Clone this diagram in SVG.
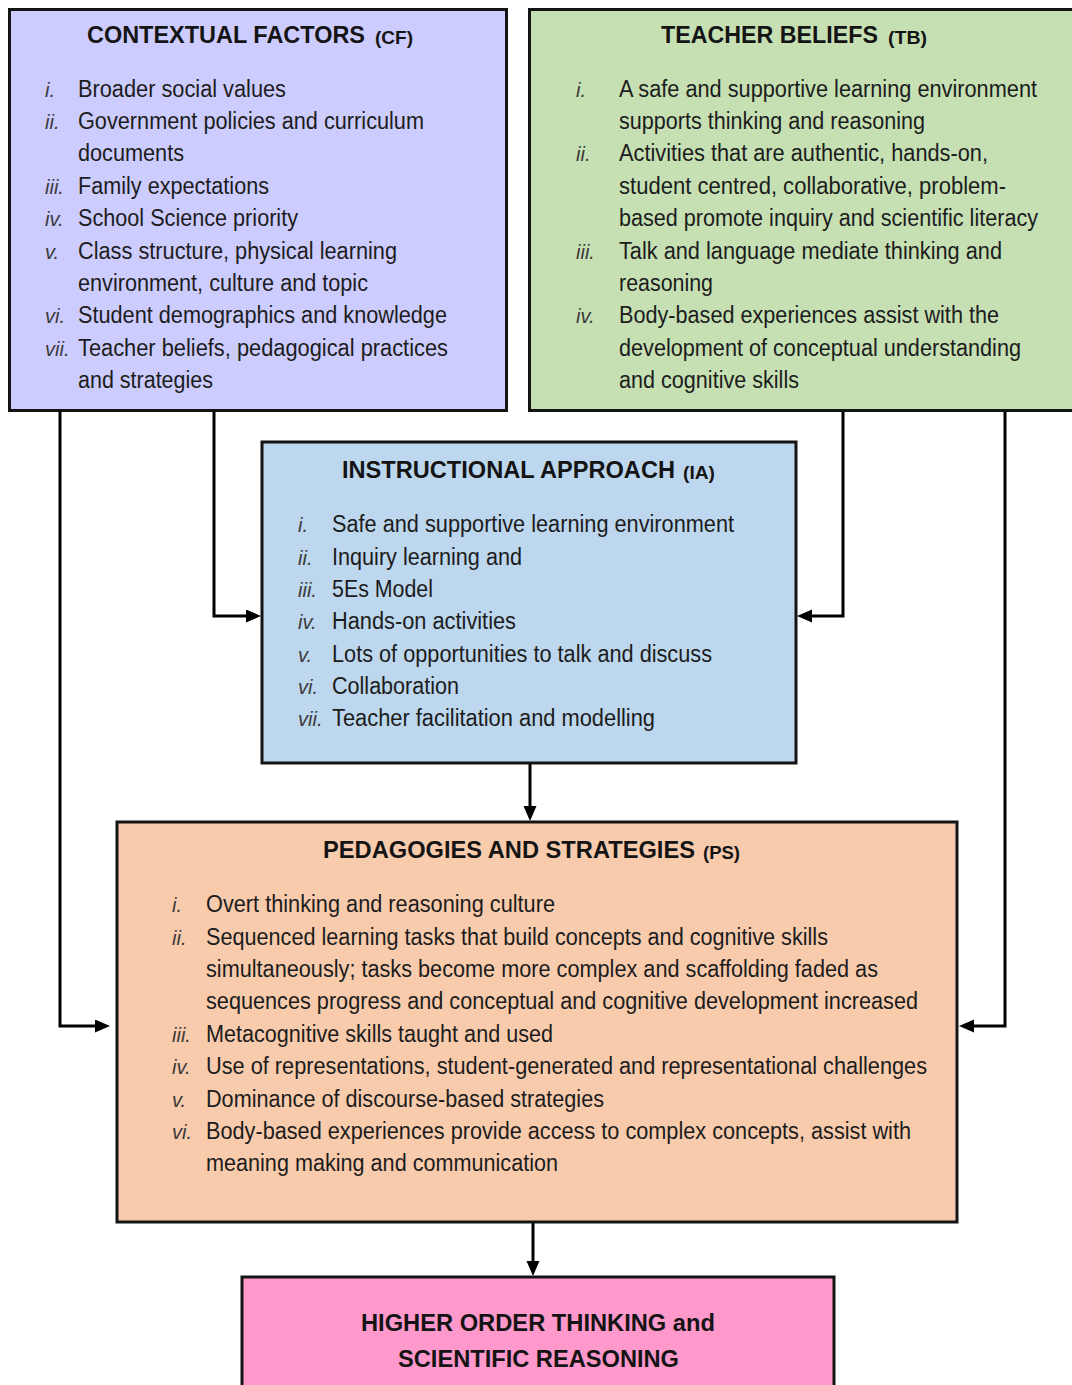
<svg xmlns="http://www.w3.org/2000/svg" width="1072" height="1385" viewBox="0 0 1072 1385">
<style>
.box{stroke:#141414;stroke-width:3}
.t{font-family:"Liberation Sans",Arial,sans-serif;font-weight:bold;font-size:23.5px;fill:#141414}
.p{font-family:"Liberation Sans",Arial,sans-serif;font-weight:bold;font-size:18px;fill:#141414}
.b{font-family:"Liberation Sans",Arial,sans-serif;font-size:23px;fill:#1c1c1c}
.n{font-family:"Liberation Sans",Arial,sans-serif;font-style:italic;font-size:20px;fill:#3a3a3a}
.c{fill:none;stroke:#000;stroke-width:3;marker-end:url(#ah)}
</style>
<defs>
<marker id="ah" markerUnits="userSpaceOnUse" markerWidth="16" markerHeight="14" refX="3" refY="6.5" orient="auto">
<path d="M0,0 L15,6.5 L0,13 z" fill="#000"/>
</marker>
</defs>
<rect width="1072" height="1385" fill="#fff"/>

<g id="connectors">
<path class="c" d="M60,411 V1026 H98"/>
<path class="c" d="M214,411 V616 H249"/>
<path class="c" d="M843,411 V616 H809"/>
<path class="c" d="M1005,411 V1026 H971"/>
<path class="c" d="M530,764 V809"/>
<path class="c" d="M533,1222 V1264"/>
</g>

<g id="cf">
<rect class="box" x="9.5" y="9.5" width="497" height="401" fill="#CCCCFF"/>
<text class="t" x="87" y="43" textLength="278" lengthAdjust="spacingAndGlyphs">CONTEXTUAL FACTORS</text>
<text class="p" x="375" y="44" textLength="38" lengthAdjust="spacingAndGlyphs">(CF)</text>
<text class="n" x="45" y="96.5">i.</text>
<text class="b" x="78" y="96.5" textLength="208" lengthAdjust="spacingAndGlyphs">Broader social values</text>
<text class="n" x="45" y="128.9">ii.</text>
<text class="b" x="78" y="128.9" textLength="346" lengthAdjust="spacingAndGlyphs">Government policies and curriculum</text>
<text class="b" x="78" y="161.3" textLength="106" lengthAdjust="spacingAndGlyphs">documents</text>
<text class="n" x="45" y="193.7">iii.</text>
<text class="b" x="78" y="193.7" textLength="191" lengthAdjust="spacingAndGlyphs">Family expectations</text>
<text class="n" x="45" y="226.1">iv.</text>
<text class="b" x="78" y="226.1" textLength="220" lengthAdjust="spacingAndGlyphs">School Science priority</text>
<text class="n" x="45" y="258.5">v.</text>
<text class="b" x="78" y="258.5" textLength="319" lengthAdjust="spacingAndGlyphs">Class structure, physical learning</text>
<text class="b" x="78" y="290.9" textLength="290" lengthAdjust="spacingAndGlyphs">environment, culture and topic</text>
<text class="n" x="45" y="323.3">vi.</text>
<text class="b" x="78" y="323.3" textLength="369" lengthAdjust="spacingAndGlyphs">Student demographics and knowledge</text>
<text class="n" x="45" y="355.7">vii.</text>
<text class="b" x="78" y="355.7" textLength="370" lengthAdjust="spacingAndGlyphs">Teacher beliefs, pedagogical practices</text>
<text class="b" x="78" y="388.1" textLength="135" lengthAdjust="spacingAndGlyphs">and strategies</text>
</g>

<g id="tb">
<rect class="box" x="529.5" y="9.5" width="560" height="401" fill="#C6E0B4"/>
<text class="t" x="661" y="43" textLength="217" lengthAdjust="spacingAndGlyphs">TEACHER BELIEFS</text>
<text class="p" x="888" y="44" textLength="39" lengthAdjust="spacingAndGlyphs">(TB)</text>
<text class="n" x="576" y="96.5">i.</text>
<text class="b" x="619" y="96.5" textLength="418" lengthAdjust="spacingAndGlyphs">A safe and supportive learning environment</text>
<text class="b" x="619" y="128.9" textLength="306" lengthAdjust="spacingAndGlyphs">supports thinking and reasoning</text>
<text class="n" x="576" y="161.3">ii.</text>
<text class="b" x="619" y="161.3" textLength="369" lengthAdjust="spacingAndGlyphs">Activities that are authentic, hands-on,</text>
<text class="b" x="619" y="193.7" textLength="387" lengthAdjust="spacingAndGlyphs">student centred, collaborative, problem-</text>
<text class="b" x="619" y="226.1" textLength="419" lengthAdjust="spacingAndGlyphs">based promote inquiry and scientific literacy</text>
<text class="n" x="576" y="258.5">iii.</text>
<text class="b" x="619" y="258.5" textLength="383" lengthAdjust="spacingAndGlyphs">Talk and language mediate thinking and</text>
<text class="b" x="619" y="290.9" textLength="94" lengthAdjust="spacingAndGlyphs">reasoning</text>
<text class="n" x="576" y="323.3">iv.</text>
<text class="b" x="619" y="323.3" textLength="380" lengthAdjust="spacingAndGlyphs">Body-based experiences assist with the</text>
<text class="b" x="619" y="355.7" textLength="402" lengthAdjust="spacingAndGlyphs">development of conceptual understanding</text>
<text class="b" x="619" y="388.1" textLength="180" lengthAdjust="spacingAndGlyphs">and cognitive skills</text>
</g>

<g id="ia">
<rect class="box" x="262" y="442" width="534" height="321" fill="#BDD7EE"/>
<text class="t" x="342" y="478" textLength="333" lengthAdjust="spacingAndGlyphs">INSTRUCTIONAL APPROACH</text>
<text class="p" x="683" y="479" textLength="32" lengthAdjust="spacingAndGlyphs">(IA)</text>
<text class="n" x="298" y="532">i.</text>
<text class="b" x="332" y="532" textLength="402" lengthAdjust="spacingAndGlyphs">Safe and supportive learning environment</text>
<text class="n" x="298" y="564.5">ii.</text>
<text class="b" x="332" y="564.5" textLength="190" lengthAdjust="spacingAndGlyphs">Inquiry learning and</text>
<text class="n" x="298" y="597">iii.</text>
<text class="b" x="332" y="597" textLength="101" lengthAdjust="spacingAndGlyphs">5Es Model</text>
<text class="n" x="298" y="629">iv.</text>
<text class="b" x="332" y="629" textLength="184" lengthAdjust="spacingAndGlyphs">Hands-on activities</text>
<text class="n" x="298" y="661.5">v.</text>
<text class="b" x="332" y="661.5" textLength="380" lengthAdjust="spacingAndGlyphs">Lots of opportunities to talk and discuss</text>
<text class="n" x="298" y="694">vi.</text>
<text class="b" x="332" y="694" textLength="127" lengthAdjust="spacingAndGlyphs">Collaboration</text>
<text class="n" x="298" y="726">vii.</text>
<text class="b" x="332" y="726" textLength="323" lengthAdjust="spacingAndGlyphs">Teacher facilitation and modelling</text>
</g>

<g id="ps">
<rect class="box" x="117" y="822" width="840" height="400" fill="#F8CBAD"/>
<text class="t" x="323" y="858" textLength="372" lengthAdjust="spacingAndGlyphs">PEDAGOGIES AND STRATEGIES</text>
<text class="p" x="703" y="859" textLength="37" lengthAdjust="spacingAndGlyphs">(PS)</text>
<text class="n" x="172" y="912">i.</text>
<text class="b" x="206" y="912" textLength="349" lengthAdjust="spacingAndGlyphs">Overt thinking and reasoning culture</text>
<text class="n" x="172" y="944.5">ii.</text>
<text class="b" x="206" y="944.5" textLength="622" lengthAdjust="spacingAndGlyphs">Sequenced learning tasks that build concepts and cognitive skills</text>
<text class="b" x="206" y="977" textLength="672" lengthAdjust="spacingAndGlyphs">simultaneously; tasks become more complex and scaffolding faded as</text>
<text class="b" x="206" y="1009" textLength="712" lengthAdjust="spacingAndGlyphs">sequences progress and conceptual and cognitive development increased</text>
<text class="n" x="172" y="1042">iii.</text>
<text class="b" x="206" y="1042" textLength="347" lengthAdjust="spacingAndGlyphs">Metacognitive skills taught and used</text>
<text class="n" x="172" y="1074">iv.</text>
<text class="b" x="206" y="1074" textLength="721" lengthAdjust="spacingAndGlyphs">Use of representations, student-generated and representational challenges</text>
<text class="n" x="172" y="1106.5">v.</text>
<text class="b" x="206" y="1106.5" textLength="398" lengthAdjust="spacingAndGlyphs">Dominance of discourse-based strategies</text>
<text class="n" x="172" y="1139">vi.</text>
<text class="b" x="206" y="1139" textLength="705" lengthAdjust="spacingAndGlyphs">Body-based experiences provide access to complex concepts, assist with</text>
<text class="b" x="206" y="1171" textLength="352" lengthAdjust="spacingAndGlyphs">meaning making and communication</text>
</g>

<g id="hot">
<rect class="box" x="242" y="1277" width="592" height="130" fill="#FF99CC"/>
<text class="t" x="361" y="1331" textLength="354" lengthAdjust="spacingAndGlyphs">HIGHER ORDER THINKING and</text>
<text class="t" x="398" y="1367" textLength="281" lengthAdjust="spacingAndGlyphs">SCIENTIFIC REASONING</text>
</g>
</svg>
